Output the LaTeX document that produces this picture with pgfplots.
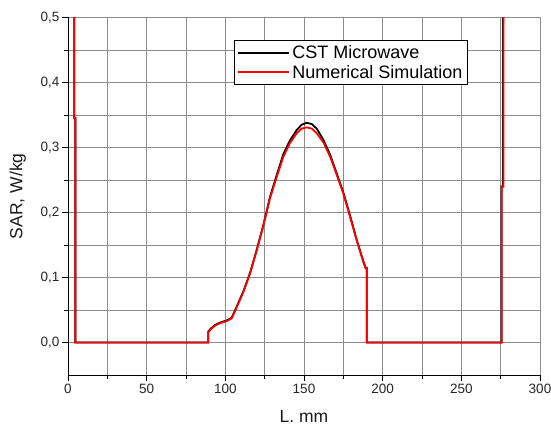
\documentclass[border=0pt]{standalone}
\usepackage{fontspec}
\setmainfont{Liberation Sans}
\usepackage{pgfplots}
\pgfplotsset{compat=1.18}
\begin{document}
\begin{tikzpicture}
\path[use as bounding box] (-68pt,-52pt) rectangle (483pt,375pt);
\begin{axis}[
  at={(0,0)}, anchor=south west,
  scale only axis, width=472pt, height=357.5pt,
  xmin=0, xmax=300, ymin=-0.05, ymax=0.5,
  axis x line*=bottom, axis y line*=left,
  tick align=outside,
  xtick={0,50,100,150,200,250,300},
  ytick={0,0.1,0.2,0.3,0.4,0.5},
  minor x tick num=1, minor y tick num=1,
  grid=both,
  major grid style={gray!90, line width=0.7pt},
  minor grid style={gray!90, line width=0.7pt},
  major tick length=6pt, minor tick length=4pt,
  tick style={black, line width=0.8pt},
  axis line style={black, line width=0.8pt},
  /pgf/number format/assume math mode=true,
  ticklabel style={font=\fontsize{13.5}{15}\selectfont, text=black!85},
  y tick label style={xshift=1pt, /pgf/number format/.cd, fixed, fixed zerofill, precision=1, use comma},
  x tick label style={/pgf/number format/.cd, fixed, precision=0},
  xlabel={L. mm}, ylabel={SAR, W/kg},
  xlabel style={at={(axis description cs:0.5,-0.117)}, anchor=center},
  ylabel style={at={(axis description cs:-0.106,0.5)}, anchor=center},
  label style={font=\fontsize{17.5}{19}\selectfont, text=black!90},
  legend style={at={(0.352,0.937)}, anchor=north west, draw=black, line width=0.8pt,
    font=\fontsize{18}{20}\selectfont, inner xsep=3pt, inner ysep=3pt, row sep=1pt, cells={anchor=west}},
  legend image code/.code={\path (-8pt,0pt) -- (43pt,0pt);\draw[#1] (0pt,0pt) -- (38pt,0pt);},
  legend cell align=left,
]
\addplot[black, line width=1.8pt] coordinates {
(4.0,0.6) (4.0,0.345) (4.7,0.345) (4.7,0) (89.2,0) (89.2,0.017) (91,0.022) (93.5,0.027) (97,0.031) (100.9,0.034) (104,0.038) (107.2,0.055) (111.5,0.079) (115.7,0.107) (120,0.143) (124.2,0.181) (128.4,0.224) (132.7,0.258) (136.9,0.290) (141.1,0.311) (145.4,0.327) (148.5,0.335) (151.7,0.338) (155,0.336) (158.1,0.329) (162.3,0.312) (166.6,0.289) (170.8,0.260) (175,0.231) (179.3,0.195) (183.5,0.158) (187.7,0.125) (189.2,0.115) (189.9,0.115) (189.9,0) (275.5,0) (275.5,0.24) (276.5,0.24) (276.5,0.48) (277,0.6)
};
\addlegendentry{CST Microwave}
\addplot[red, line width=1.8pt] coordinates {
(4.0,0.6) (4.0,0.345) (4.7,0.345) (4.7,0) (89.2,0) (89.2,0.016) (91,0.021) (93.5,0.026) (97,0.030) (100.9,0.033) (104,0.037) (107.2,0.054) (111.5,0.078) (115.7,0.106) (120,0.142) (124.2,0.180) (128.4,0.222) (132.7,0.255) (136.9,0.286) (141.1,0.307) (145.4,0.322) (148.5,0.329) (151.7,0.331) (155,0.329) (158.1,0.322) (162.3,0.308) (166.6,0.286) (170.8,0.258) (175,0.229) (179.3,0.193) (183.5,0.157) (187.7,0.124) (189.2,0.114) (189.9,0.114) (189.9,0) (275.7,0) (275.7,0.24) (276.8,0.24) (276.8,0.6)
};
\addlegendentry{Numerical Simulation}
\end{axis}
\end{tikzpicture}
\end{document}
